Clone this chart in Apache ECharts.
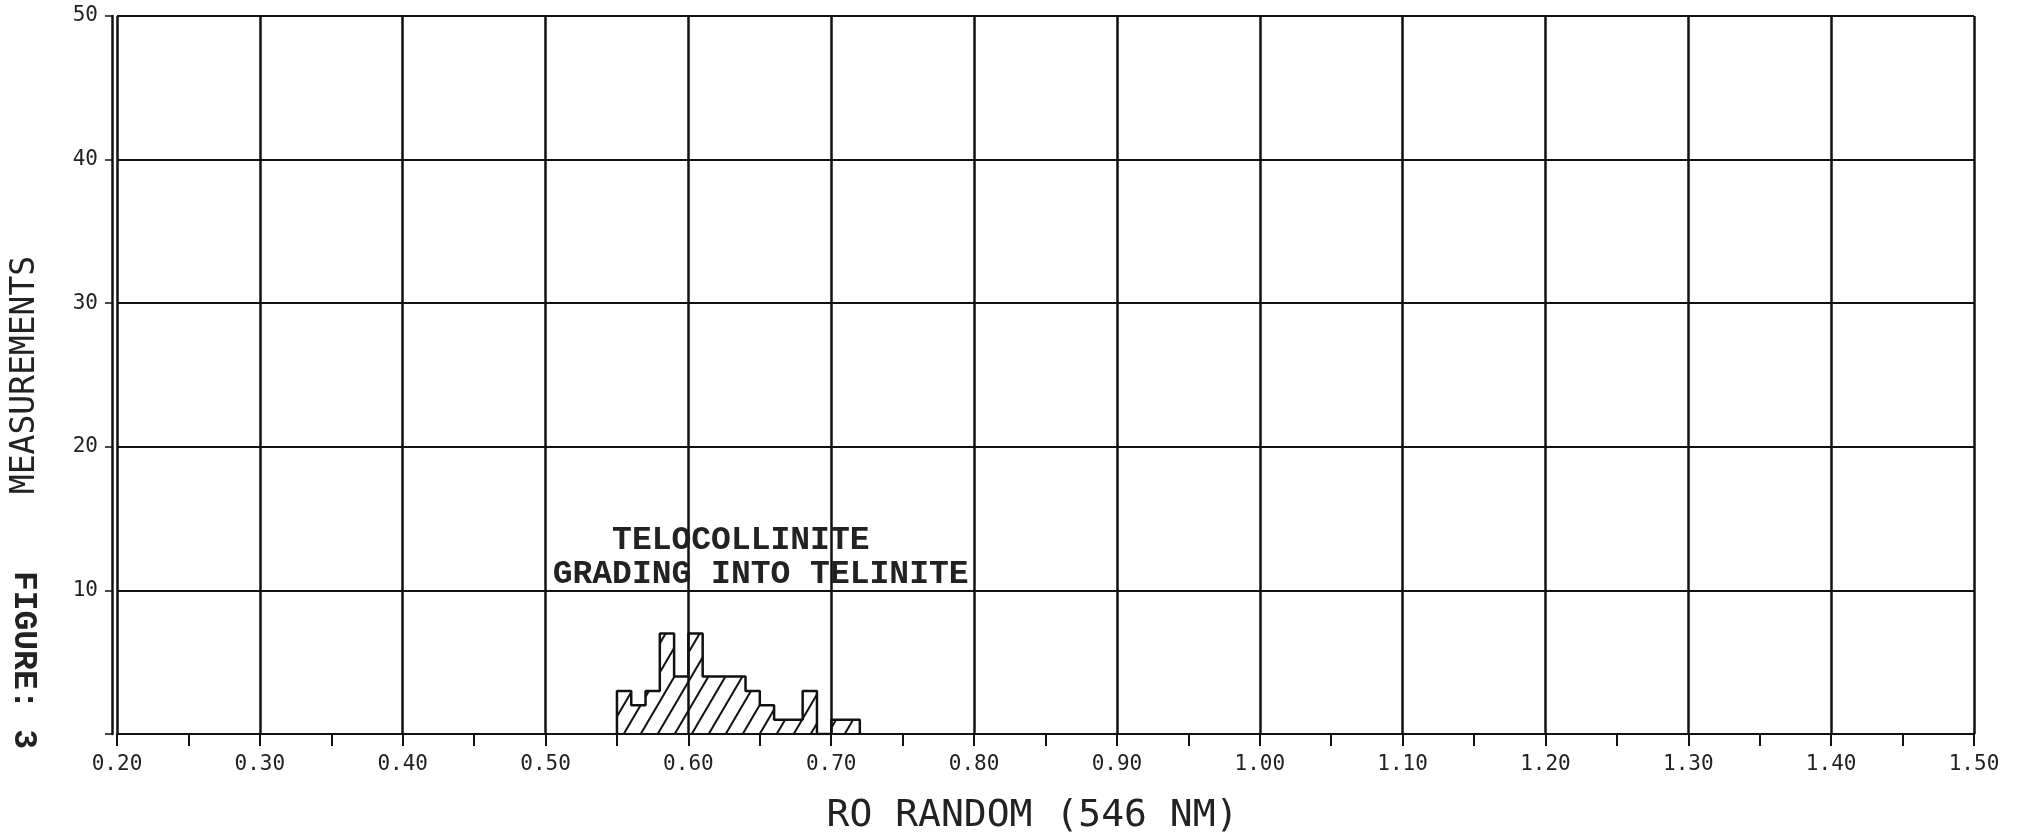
<!DOCTYPE html>
<html>
<head>
<meta charset="utf-8">
<script src="https://cdn.jsdelivr.net/npm/echarts@6/dist/echarts.min.js"></script>
<style>
  html, body { margin: 0; padding: 0; background: #ffffff; }
  #chart { width: 2034px; height: 832px; }
</style>
</head>
<body>
<div id="chart"></div>
<script>
// ---- data ----
const binStarts = [0.55, 0.56, 0.57, 0.58, 0.59, 0.60, 0.61, 0.62, 0.63, 0.64, 0.65, 0.66, 0.67, 0.68, 0.69, 0.70, 0.71];
const counts    = [3,    2,    3,    7,    4,    7,    4,    4,    4,    3,    2,    1,    1,    3,    0,    1,    1];
const binWidth = 0.01;
const xTickLabels = ['0.20','0.30','0.40','0.50','0.60','0.70','0.80','0.90','1.00','1.10','1.20','1.30','1.40','1.50'];
const yTickLabels = ['', '10', '20', '30', '40', '50'];
const xTitle = 'RO RANDOM (546 NM)';
const yTitle = 'MEASUREMENTS';
const figureLabel = 'FIGURE: 3';
const annotationLines = ['   TELOCOLLINITE', 'GRADING INTO TELINITE'];
const annotationAt = [0.505, 12.25];

// ---- build step outline from bins ----
const stepPoints = [[binStarts[0], 0]];
binStarts.forEach((s, i) => stepPoints.push([+(s + binWidth).toFixed(3), counts[i]]));
stepPoints.push([stepPoints[stepPoints.length - 1][0], 0]);

// ---- hatch pattern ----
function makeHatch() {
  const w = 17, h = 29;
  const c = document.createElement('canvas');
  c.width = w; c.height = h;
  const ctx = c.getContext('2d');
  ctx.strokeStyle = '#111';
  ctx.lineWidth = 2;
  for (let k = -1; k <= 1; k++) {
    ctx.beginPath();
    ctx.moveTo(-w + k * w, 2 * h);
    ctx.lineTo(2 * w + k * w, -h);
    ctx.stroke();
  }
  return c;
}

const chart = echarts.init(document.getElementById('chart'), null, { renderer: 'canvas' });
const xMin = 0.2, xMax = 1.5, yMin = 0, yMax = 50;

chart.setOption({
  backgroundColor: '#ffffff',
  animation: false,
  grid: { left: 117, right: 60, top: 16, bottom: 98, containLabel: false, outerBoundsMode: 'none' },
  xAxis: {
    type: 'value', min: xMin, max: xMax, interval: 0.1,
    name: xTitle, nameLocation: 'middle', nameGap: 63,
    nameTextStyle: { fontFamily: 'DejaVu Sans Mono', fontSize: 38, color: '#222', padding: [0, 26, 0, 0] },
    axisLine: { show: true, onZero: false, lineStyle: { color: '#111', width: 2 } },
    axisTick: { show: true, inside: false, length: 12, lineStyle: { color: '#111', width: 2 } },
    minorTick: { show: true, splitNumber: 2, length: 12, lineStyle: { color: '#111', width: 2 } },
    axisLabel: {
      margin: 20, fontFamily: 'DejaVu Sans Mono', fontSize: 21, color: '#222',
      formatter: v => xTickLabels[Math.round((v - xMin) / 0.1)] || ''
    },
    splitLine: { show: true, showMinLine: true, showMaxLine: true, lineStyle: { color: '#111', width: 2.5 } }
  },
  yAxis: {
    type: 'value', min: yMin, max: yMax, interval: 10, offset: 5,
    name: yTitle, nameLocation: 'middle', nameGap: 70, nameRotate: 90,
    nameTextStyle: { fontFamily: 'DejaVu Sans Mono', fontSize: 33, color: '#222' },
    axisLine: { show: true, lineStyle: { color: '#111', width: 2.5 } },
    axisTick: { show: true, inside: false, length: 7, lineStyle: { color: '#111', width: 1.5 } },
    axisLabel: {
      margin: 14, fontFamily: 'DejaVu Sans Mono', fontSize: 21, color: '#222',
      formatter: v => yTickLabels[Math.round((v - yMin) / 10)] || ''
    },
    splitLine: { show: true, showMinLine: true, showMaxLine: true, lineStyle: { color: '#111', width: 1.8 } }
  },
  series: [{
    type: 'line',
    step: 'start',
    data: stepPoints,
    symbol: 'none',
    lineStyle: { color: '#111', width: 2.5 },
    areaStyle: { color: { image: makeHatch(), repeat: 'repeat' }, opacity: 1, origin: 'start' },
    z: 5
  }]
});

const anchor = chart.convertToPixel({ gridIndex: 0 }, annotationAt);
chart.setOption({
  graphic: [
    {
      type: 'text', x: anchor[0], y: anchor[1],
      style: {
        text: annotationLines.join('\n'),
        fontFamily: 'Liberation Mono', fontWeight: 'bold', fontSize: 33, lineHeight: 34,
        fill: '#222', textAlign: 'left', textVerticalAlign: 'middle'
      }, z: 10
    },
    {
      type: 'text', x: 23, y: 660, rotation: -Math.PI / 2,
      style: {
        text: figureLabel,
        fontFamily: 'Liberation Mono', fontWeight: 'bold', fontSize: 33,
        fill: '#222', textAlign: 'center', textVerticalAlign: 'middle'
      }
    }
  ]
});
</script>
</body>
</html>
